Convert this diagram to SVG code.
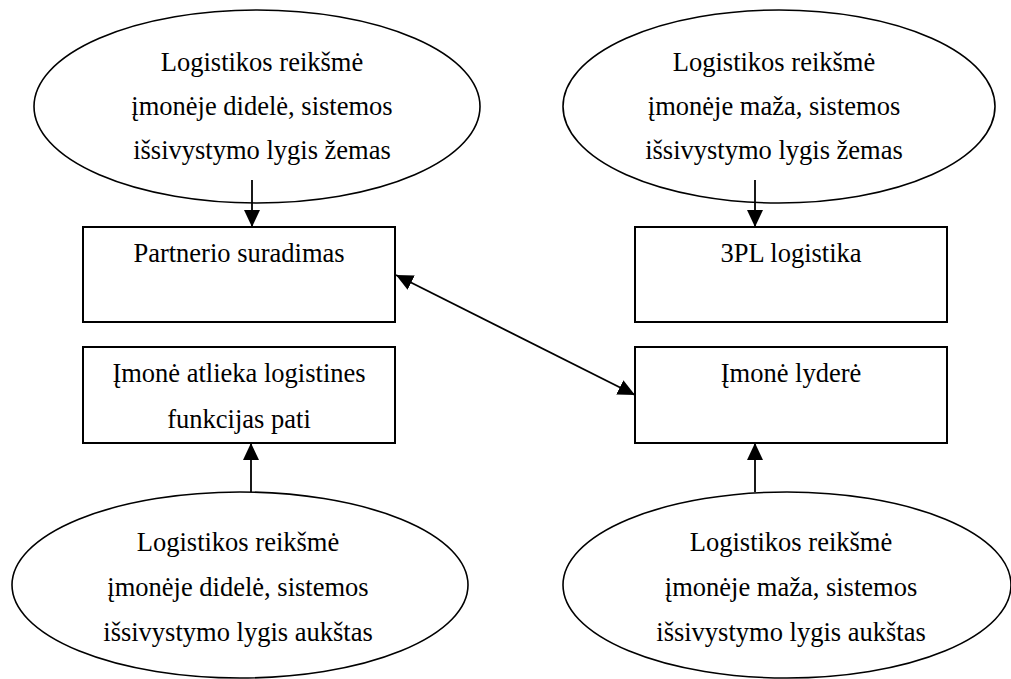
<svg xmlns="http://www.w3.org/2000/svg" width="1011" height="679" viewBox="0 0 1011 679">
  <style>
    .shape { fill: #ffffff; stroke: #000000; }
    .oval { stroke-width: 1.6; }
    .box { stroke-width: 2; }
    .label { font-family: "Liberation Serif", "Times New Roman", serif; font-size: 26.5px; fill: #000000; text-anchor: middle; }
    .link { stroke: #000000; stroke-width: 1.8; fill: none; }
  </style>
  <defs>
    <marker id="arrow" markerUnits="userSpaceOnUse" markerWidth="18" markerHeight="18" viewBox="0 0 18 18" refX="17" refY="9" orient="auto-start-reverse">
      <path d="M0,1 L17,9 L0,17 Z" fill="#000000"/>
    </marker>
  </defs>

  <rect width="1011" height="679" fill="#ffffff"/>

  <!-- upper ovals -->
  <g id="oval-high-low">
    <ellipse class="shape oval" cx="257" cy="106.5" rx="223" ry="96.5"/>
    <text class="label" x="262" y="71">Logistikos reikšmė</text>
    <text class="label" x="262" y="115">įmonėje didelė, sistemos</text>
    <text class="label" x="262" y="159">išsivystymo lygis žemas</text>
  </g>
  <g id="oval-small-low">
    <ellipse class="shape oval" cx="779" cy="106.5" rx="216" ry="96.5"/>
    <text class="label" x="774" y="71">Logistikos reikšmė</text>
    <text class="label" x="774" y="115">įmonėje maža, sistemos</text>
    <text class="label" x="774" y="159">išsivystymo lygis žemas</text>
  </g>

  <!-- boxes -->
  <g id="box-partner">
    <rect class="shape box" x="83" y="227" width="312" height="95"/>
    <text class="label" x="239" y="262">Partnerio suradimas</text>
  </g>
  <g id="box-3pl">
    <rect class="shape box" x="635" y="227" width="312" height="95"/>
    <text class="label" x="791" y="262">3PL logistika</text>
  </g>
  <g id="box-self">
    <rect class="shape box" x="83" y="347" width="312" height="96"/>
    <text class="label" x="239" y="382">Įmonė atlieka logistines</text>
    <text class="label" x="239" y="428">funkcijas pati</text>
  </g>
  <g id="box-leader">
    <rect class="shape box" x="635" y="347" width="312" height="96"/>
    <text class="label" x="791" y="382">Įmonė lyderė</text>
  </g>

  <!-- lower ovals -->
  <g id="oval-high-high">
    <ellipse class="shape oval" cx="240" cy="585" rx="228" ry="93"/>
    <text class="label" x="238" y="551">Logistikos reikšmė</text>
    <text class="label" x="238" y="596">įmonėje didelė, sistemos</text>
    <text class="label" x="238" y="641">išsivystymo lygis aukštas</text>
  </g>
  <g id="oval-small-high">
    <ellipse class="shape oval" cx="787" cy="585" rx="224" ry="93"/>
    <text class="label" x="791" y="551">Logistikos reikšmė</text>
    <text class="label" x="791" y="596">įmonėje maža, sistemos</text>
    <text class="label" x="791" y="641">išsivystymo lygis aukštas</text>
  </g>

  <!-- connectors -->
  <g id="connectors">
    <line class="link" x1="252" y1="180" x2="252" y2="227" marker-end="url(#arrow)"/>
    <line class="link" x1="755" y1="180" x2="755" y2="227" marker-end="url(#arrow)"/>
    <line class="link" x1="251" y1="492" x2="251" y2="443" marker-end="url(#arrow)"/>
    <line class="link" x1="755" y1="492" x2="755" y2="443" marker-end="url(#arrow)"/>
    <line class="link" x1="396" y1="275" x2="635" y2="395" marker-start="url(#arrow)" marker-end="url(#arrow)"/>
  </g>
</svg>
